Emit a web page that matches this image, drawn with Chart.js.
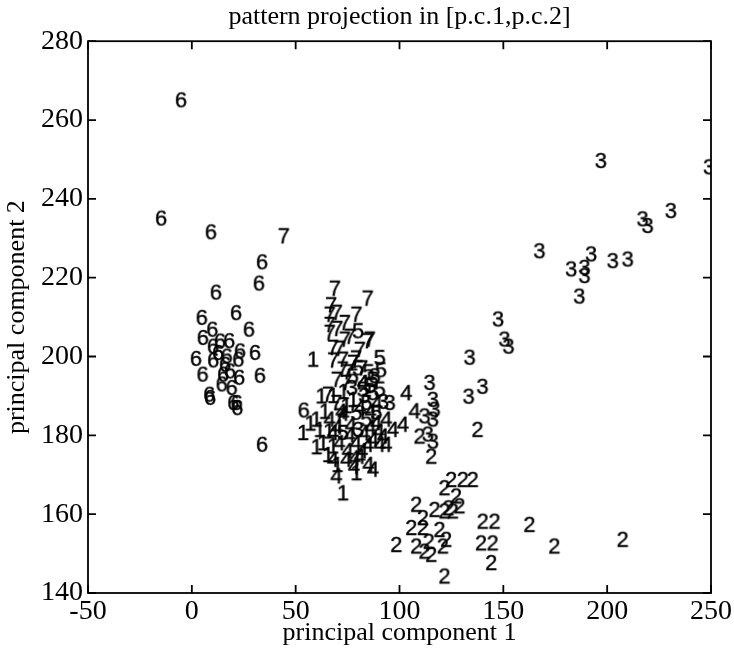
<!DOCTYPE html>
<html>
<head>
<meta charset="utf-8">
<script src="https://cdn.jsdelivr.net/npm/chart.js@4.4.0/dist/chart.umd.min.js"></script>
<style>
  body { margin: 0; background: #fff; }
  #chart_pc { display: block; }
</style>
</head>
<body>
<canvas id="chart_pc" width="734" height="659"></canvas>
<script>
// pattern projection on the first two principal components, one label per pattern

var xTicks = [-50, 0, 50, 100, 150, 200, 250];
var yTicks = [140, 160, 180, 200, 220, 240, 260, 280];

var class1X = [58.3, 62.3, 53.5, 61.5, 59.9, 63.1, 67.9, 72.7, 79.2, 57.0, 65.5, 70.0, 74.3, 77.6, 64.0, 68.0, 66.0, 73.0, 60.0];
var class1Y = [199.2, 189.9, 180.6, 181.4, 184.0, 178.0, 177.2, 165.3, 170.4, 183.0, 175.0, 172.5, 187.4, 189.0, 186.0, 190.0, 181.0, 191.0, 177.0];

var class2X = [137.5, 115.2, 109.6, 124.8, 130.4, 135.2, 121.6, 127.2, 128.8, 108.0, 116.8, 121.6, 125.6, 111.2, 105.6, 111.2, 119.2, 140.0, 145.7, 162.5, 98.4, 108.0, 112.0, 115.2, 122.4, 120.8, 139.2, 144.8, 144.1, 174.5, 207.4, 121.6, 123.5, 114.0];
var class2Y = [181.4, 174.6, 179.7, 168.7, 168.7, 168.7, 166.6, 164.5, 162.0, 162.4, 161.1, 160.7, 160.7, 159.0, 156.5, 156.5, 156.0, 158.1, 158.1, 157.3, 152.2, 151.8, 150.5, 149.7, 153.5, 151.8, 152.6, 152.6, 147.6, 151.8, 153.5, 144.2, 161.5, 153.0];

var class3X = [196.9, 230.6, 217.0, 219.4, 167.3, 192.2, 182.6, 189.0, 189.0, 202.6, 209.8, 186.5, 147.4, 150.5, 152.4, 133.7, 139.9, 133.2, 114.4, 95.2, 112.0, 116.8, 116.0, 116.0, 113.6, 116.0, 249.0, 80.0, 77.0, 83.0, 88.0, 92.0];
var class3Y = [249.6, 236.9, 234.8, 233.1, 226.7, 225.9, 222.1, 222.5, 220.4, 224.2, 224.6, 215.2, 209.4, 204.3, 202.5, 199.7, 192.3, 189.8, 193.3, 188.2, 184.8, 186.5, 189.0, 184.0, 180.2, 178.4, 248.0, 181.4, 192.0, 190.0, 195.0, 188.5];

var class4X = [103.2, 107.2, 101.6, 96.8, 93.6, 87.2, 67.9, 69.6, 74.3, 78.4, 80.8, 84.8, 90.4, 87.2, 92.0, 93.6, 67.9, 66.3, 71.0, 76.0, 82.0, 73.0, 86.0, 82.4, 88.8, 76.5, 79.0, 83.0, 86.0, 89.0, 75.0, 72.0, 70.0, 85.0, 78.0, 90.0, 81.0];
var class4Y = [190.7, 186.1, 182.7, 181.4, 184.0, 171.3, 173.8, 169.6, 173.8, 174.2, 174.6, 177.6, 177.6, 178.9, 179.7, 177.6, 180.6, 184.0, 178.0, 180.0, 176.0, 185.5, 182.0, 193.3, 183.1, 182.5, 178.0, 180.5, 186.0, 188.0, 176.0, 186.0, 182.0, 172.5, 172.0, 181.0, 187.0];

var class5X = [80.0, 90.4, 87.0, 90.4, 84.0, 82.2, 88.8, 72.7, 77.4, 84.0, 79.2, 87.2, 85.0, 80.0, 91.0, 86.0];
var class5Y = [206.4, 199.6, 194.1, 191.6, 188.2, 191.6, 185.7, 180.6, 194.9, 184.0, 185.7, 190.7, 196.0, 197.0, 196.5, 192.5];

var class6X = [-5.3, -14.9, 9.1, 33.7, 32.2, 11.5, 21.2, 27.4, 33.7, 53.8, 4.7, 9.8, 5.2, 30.3, 1.9, 5.1, 32.7, 8.3, 8.7, 21.5, 21.8, 19.9, 10.1, 13.5, 17.9, 23.1, 22.3, 10.2, 15.9, 15.0, 18.3, 22.7, 14.3, 19.1, 12.6, 16.7];
var class6Y = [265.0, 235.0, 231.5, 223.9, 218.5, 216.2, 211.0, 206.8, 177.6, 186.3, 209.8, 206.8, 204.7, 200.9, 199.4, 195.4, 195.1, 190.3, 189.5, 188.2, 186.9, 188.2, 202.5, 203.8, 203.9, 201.3, 199.2, 199.0, 197.9, 195.4, 196.2, 194.6, 192.9, 192.0, 200.9, 200.0];

var class7X = [44.2, 68.8, 84.6, 66.3, 79.2, 73.6, 66.3, 73.6, 85.6, 67.9, 80.8, 72.7, 77.6, 84.8, 69.7, 66.3, 69.7, 72.6, 65.5, 69.6, 74.3, 71.2, 68.0, 71.0, 76.0, 70.0, 67.0, 75.0, 79.0, 82.0];
var class7Y = [230.5, 217.2, 214.7, 210.6, 210.6, 208.5, 206.0, 204.3, 204.3, 202.2, 201.7, 199.2, 198.4, 203.9, 211.1, 208.0, 194.1, 196.7, 190.3, 188.2, 193.3, 184.8, 199.0, 202.0, 205.0, 207.0, 213.0, 196.0, 199.5, 197.0];

var serif = '"Liberation Serif", "Times New Roman", serif';

// each class is drawn as its own digit, so the point style is a little canvas with the digit on it
function digitGlyph(txt) {
    var c = document.createElement('canvas');
    c.width = 18;
    c.height = 26;
    var g = c.getContext('2d');
    g.font = '22px "Liberation Sans", Arial, sans-serif';
    g.fillStyle = '#000';
    g.strokeStyle = '#000';
    g.lineWidth = 0.4;
    g.textAlign = 'center';
    g.textBaseline = 'middle';
    g.fillText(txt, 9, 14);
    g.strokeText(txt, 9, 14);
    return c;
}

function makeSet(label, xs, ys) {
    return {
        label: label,
        data: xs.map(function (x, i) { return { x: x, y: ys[i] }; }),
        pointStyle: digitGlyph(label),
        pointRadius: 3,
        pointHoverRadius: 3,
        clip: 0
    };
}

// MATLAB style frame: a box round the plot with ticks pointing inwards
var frameBox = {
    id: 'frameBox',
    afterDraw: function (chart) {
        var ctx = chart.ctx;
        var a = chart.chartArea;
        var sx = chart.scales.x, sy = chart.scales.y;
        var len = 8;
        ctx.save();
        ctx.strokeStyle = '#000';
        ctx.lineWidth = 1.8;
        ctx.strokeRect(a.left, a.top, a.right - a.left, a.bottom - a.top);
        ctx.beginPath();
        xTicks.forEach(function (v) {
            var px = sx.getPixelForValue(v);
            ctx.moveTo(px, a.bottom); ctx.lineTo(px, a.bottom - len);
            ctx.moveTo(px, a.top); ctx.lineTo(px, a.top + len);
        });
        yTicks.forEach(function (v) {
            var py = sy.getPixelForValue(v);
            ctx.moveTo(a.left, py); ctx.lineTo(a.left + len, py);
            ctx.moveTo(a.right, py); ctx.lineTo(a.right - len, py);
        });
        ctx.stroke();
        ctx.restore();
    }
};

var ctxPC = document.getElementById('chart_pc').getContext('2d');
var chartPC = new Chart(ctxPC, {
    type: 'scatter',
    data: {
        datasets: [
            makeSet('1', class1X, class1Y),
            makeSet('2', class2X, class2Y),
            makeSet('3', class3X, class3Y),
            makeSet('4', class4X, class4Y),
            makeSet('5', class5X, class5Y),
            makeSet('6', class6X, class6Y),
            makeSet('7', class7X, class7Y)
        ]
    },
    options: {
        responsive: false,
        animation: false,
        layout: { padding: { left: 0, right: 22, top: 0, bottom: 0 } },
        plugins: {
            legend: { display: false },
            tooltip: { enabled: false },
            title: {
                display: true,
                fullSize: false,
                text: 'pattern projection in [p.c.1,p.c.2]',
                color: '#000',
                font: { family: serif, size: 26, weight: 'normal' },
                padding: { top: 2, bottom: 8 }
            }
        },
        scales: {
            x: {
                type: 'linear',
                min: -50,
                max: 250,
                afterBuildTicks: function (s) { s.ticks = xTicks.map(function (v) { return { value: v }; }); },
                afterFit: function (s) { s.height = 66; },
                grid: { display: false, drawTicks: false },
                border: { display: false },
                ticks: { color: '#000', padding: 2, font: { family: serif, size: 28 } },
                title: {
                    display: true,
                    text: 'principal component 1',
                    color: '#000',
                    font: { family: serif, size: 26 },
                    padding: { top: 0, bottom: 10 }
                }
            },
            y: {
                type: 'linear',
                min: 140,
                max: 280,
                afterBuildTicks: function (s) { s.ticks = yTicks.map(function (v) { return { value: v }; }); },
                afterFit: function (s) { s.width = 88; },
                grid: { display: false, drawTicks: false },
                border: { display: false },
                ticks: { color: '#000', padding: 5, font: { family: serif, size: 28 } },
                title: {
                    display: true,
                    text: 'principal component 2',
                    color: '#000',
                    font: { family: serif, size: 26 },
                    padding: { top: 2, bottom: 0 }
                }
            }
        }
    },
    plugins: [frameBox]
});
</script>
</body>
</html>
